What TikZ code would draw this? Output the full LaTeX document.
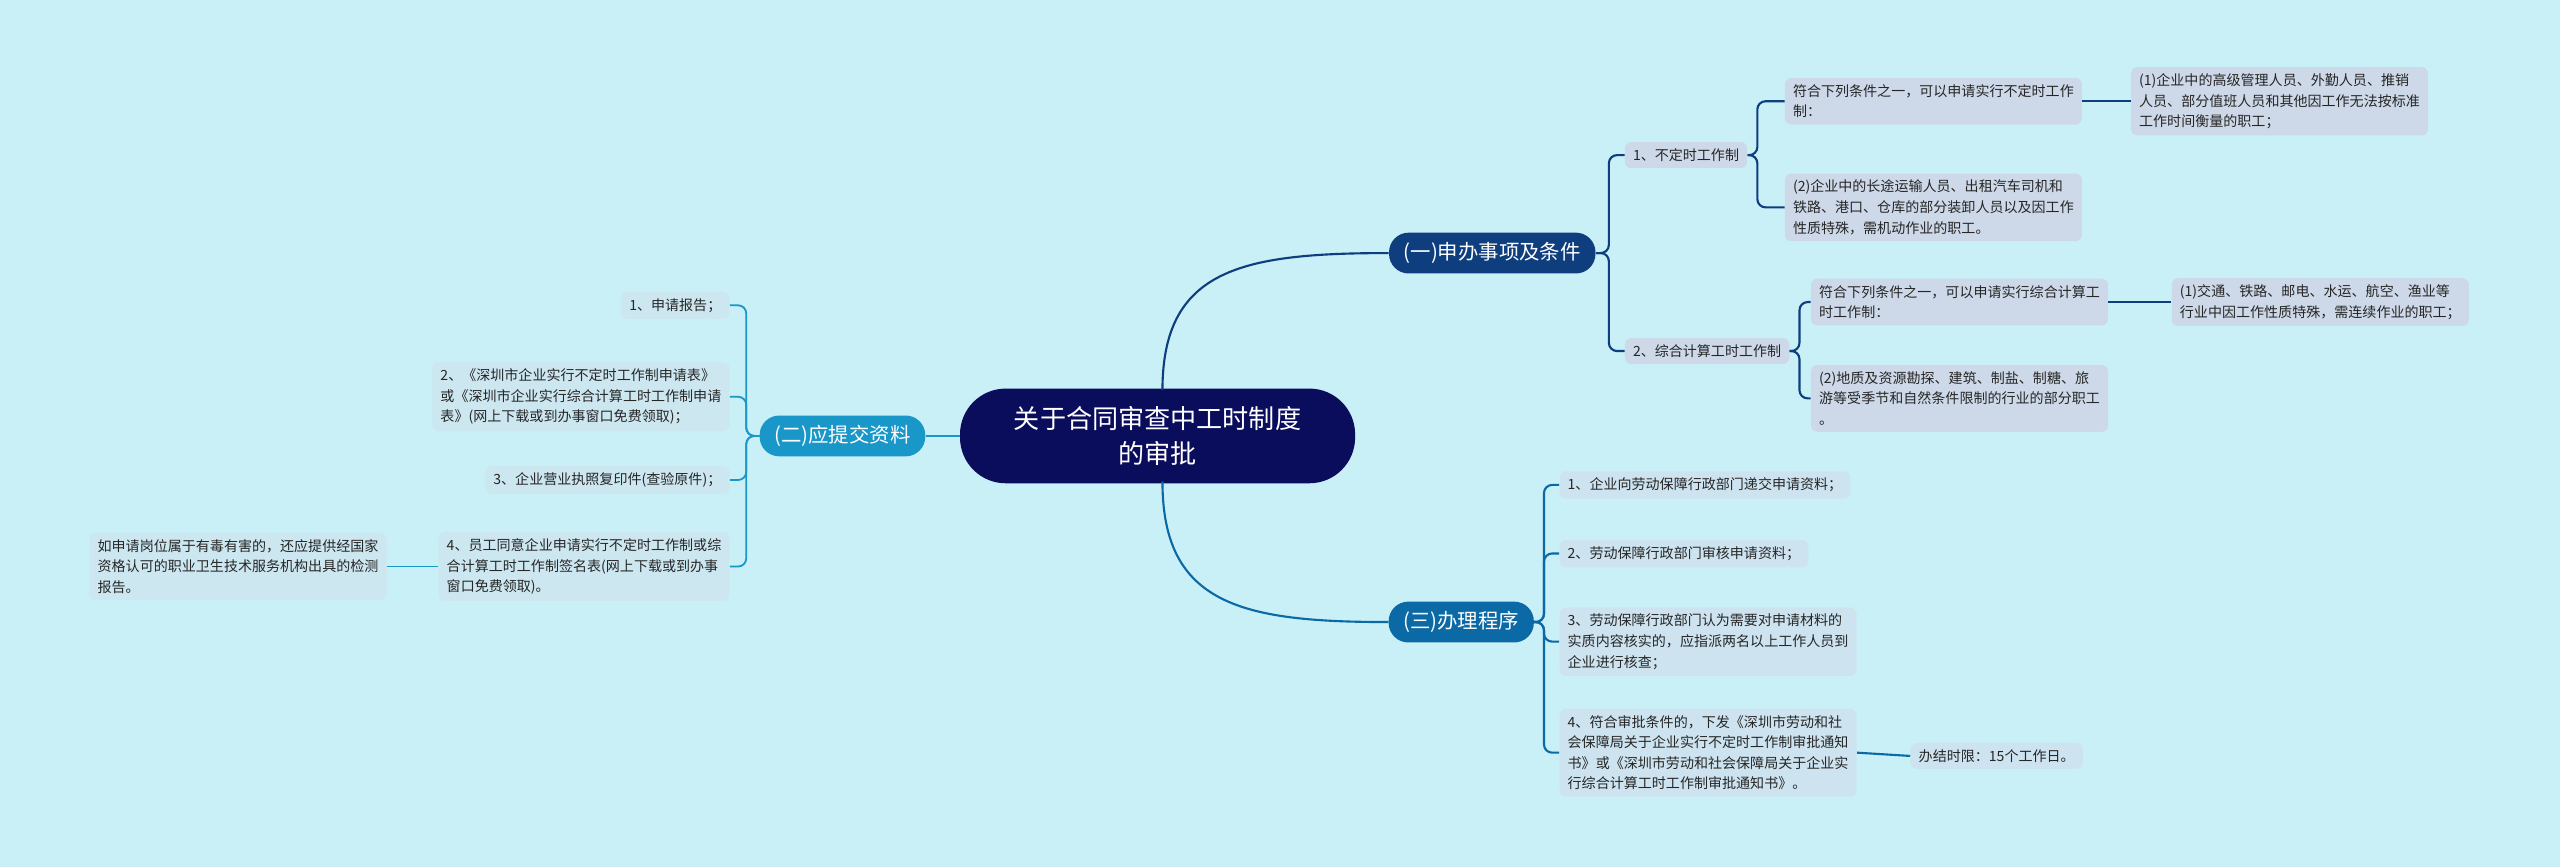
\documentclass[tikz,border=0pt]{standalone}
\usepackage{fontspec}
\setmainfont{Noto Sans CJK SC}
\begin{document}
\begin{tikzpicture}[x=1pt,y=-1pt,
  leaf/.style={rounded corners=4pt,inner xsep=5pt,inner ysep=4pt,align=left,font=\fontsize{8.6}{12.6}\selectfont,text=black!85},
  lu/.style={leaf,fill=lu},
  ll/.style={leaf,fill=ll},
  lf/.style={leaf,fill=lf},
  br/.style={rounded corners=12pt,text=white,font=\fontsize{12.5}{15}\selectfont,minimum height=25pt,inner xsep=9pt},
  c1/.style={draw=cA,line width=1.3pt,rounded corners=5pt},
  c3/.style={draw=cC,line width=1.3pt,rounded corners=5pt},
  c2/.style={draw=cB,line width=1.1pt,rounded corners=5pt}]
\definecolor{bg}{HTML}{C9EFF7}
\definecolor{lu}{HTML}{CDD8E8}
\definecolor{ll}{HTML}{CDE3EF}
\definecolor{lf}{HTML}{CDE7F1}
\definecolor{root}{HTML}{0A0D5C}
\definecolor{cA}{HTML}{0E3E7E}
\definecolor{cC}{HTML}{0B6AA6}
\definecolor{cB}{HTML}{1897C8}
\fill[bg] (0,0) rectangle (1568,531);
\useasboundingbox (0,0) rectangle (1568,531);
\node[fill=root,text=white,rounded corners=28pt,minimum width=242pt,minimum height=58pt,align=center,font=\fontsize{16}{22}\selectfont] (root) at (709,267) {关于合同审查中工时制度\\的审批};
\node[br,fill=cA] (b1) at (914,155) {(一)申办事项及条件};
\node[br,fill=cC] (b3) at (895,381) {(三)办理程序};
\node[br,fill=cB] (b2) at (516,267) {(二)应提交资料};
\draw[c1,rounded corners=0pt] (712,239) .. controls (712,165) and (760,155) .. (b1.west);
\draw[c3,rounded corners=0pt] (712,295) .. controls (712,370) and (760,381) .. (b3.west);
\draw[c2] (root.west) -- (b2.east);
% right upper
\node[lu,anchor=west] (r1) at (995,95) {1、不定时工作制};
\node[lu,anchor=west] (r2) at (995,215) {2、综合计算工时工作制};
\node[lu,anchor=west] (r1a) at (1093,62) {符合下列条件之一，可以申请实行不定时工作\\制：};
\node[lu,anchor=west] (r1b) at (1093,127) {(2)企业中的长途运输人员、出租汽车司机和\\铁路、港口、仓库的部分装卸人员以及因工作\\性质特殊，需机动作业的职工。};
\node[lu,anchor=west] (r1a1) at (1305,62) {(1)企业中的高级管理人员、外勤人员、推销\\人员、部分值班人员和其他因工作无法按标准\\工作时间衡量的职工；};
\node[lu,anchor=west] (r2a) at (1109,185) {符合下列条件之一，可以申请实行综合计算工\\时工作制：};
\node[lu,anchor=west] (r2b) at (1109,244) {(2)地质及资源勘探、建筑、制盐、制糖、旅\\游等受季节和自然条件限制的行业的部分职工\\。};
\node[lu,anchor=west] (r2a1) at (1330,185) {(1)交通、铁路、邮电、水运、航空、渔业等\\行业中因工作性质特殊，需连续作业的职工；};
\foreach \ch in {r1,r2} \draw[c1] (b1.east) -- ++(8,0) |- (\ch.west);
\foreach \ch in {r1a,r1b} \draw[c1] (r1.east) -- ++(6,0) |- (\ch.west);
\foreach \ch in {r2a,r2b} \draw[c1] (r2.east) -- ++(6,0) |- (\ch.west);
\draw[c1] (r1a.east) -- (r1a1.west);
\draw[c1] (r2a.east) -- (r2a1.west);
% right lower
\node[ll,anchor=west] (p1) at (955,297) {1、企业向劳动保障行政部门递交申请资料；};
\node[ll,anchor=west] (p2) at (955,339) {2、劳动保障行政部门审核申请资料；};
\node[ll,anchor=west] (p3) at (955,393) {3、劳动保障行政部门认为需要对申请材料的\\实质内容核实的，应指派两名以上工作人员到\\企业进行核查；};
\node[ll,anchor=west] (p4) at (955,461) {4、符合审批条件的，下发《深圳市劳动和社\\会保障局关于企业实行不定时工作制审批通知\\书》或《深圳市劳动和社会保障局关于企业实\\行综合计算工时工作制审批通知书》。};
\node[ll,anchor=west] (p4a) at (1170,463) {办结时限：15个工作日。};
\foreach \ch in {p1,p2,p3,p4} \draw[c3] (b3.east) -- ++(6,0) |- (\ch.west);
\draw[c3] (p4.east) -- (p4a.west);
% left
\node[lf,anchor=east] (l1) at (447,187) {1、申请报告；};
\node[lf,anchor=east] (l2) at (447,243) {2、《深圳市企业实行不定时工作制申请表》\\或《深圳市企业实行综合计算工时工作制申请\\表》(网上下载或到办事窗口免费领取)；};
\node[lf,anchor=east] (l3) at (447,294) {3、企业营业执照复印件(查验原件)；};
\node[lf,anchor=east] (l4) at (447,347) {4、员工同意企业申请实行不定时工作制或综\\合计算工时工作制签名表(网上下载或到办事\\窗口免费领取)。};
\node[lf,anchor=east] (l4a) at (237,347) {如申请岗位属于有毒有害的，还应提供经国家\\资格认可的职业卫生技术服务机构出具的检测\\报告。};
\foreach \ch in {l1,l2,l3,l4} \draw[c2] (b2.west) -- ++(-8,0) |- (\ch.east);
\draw[c2] (l4.west) -- (l4a.east);
\end{tikzpicture}
\end{document}
